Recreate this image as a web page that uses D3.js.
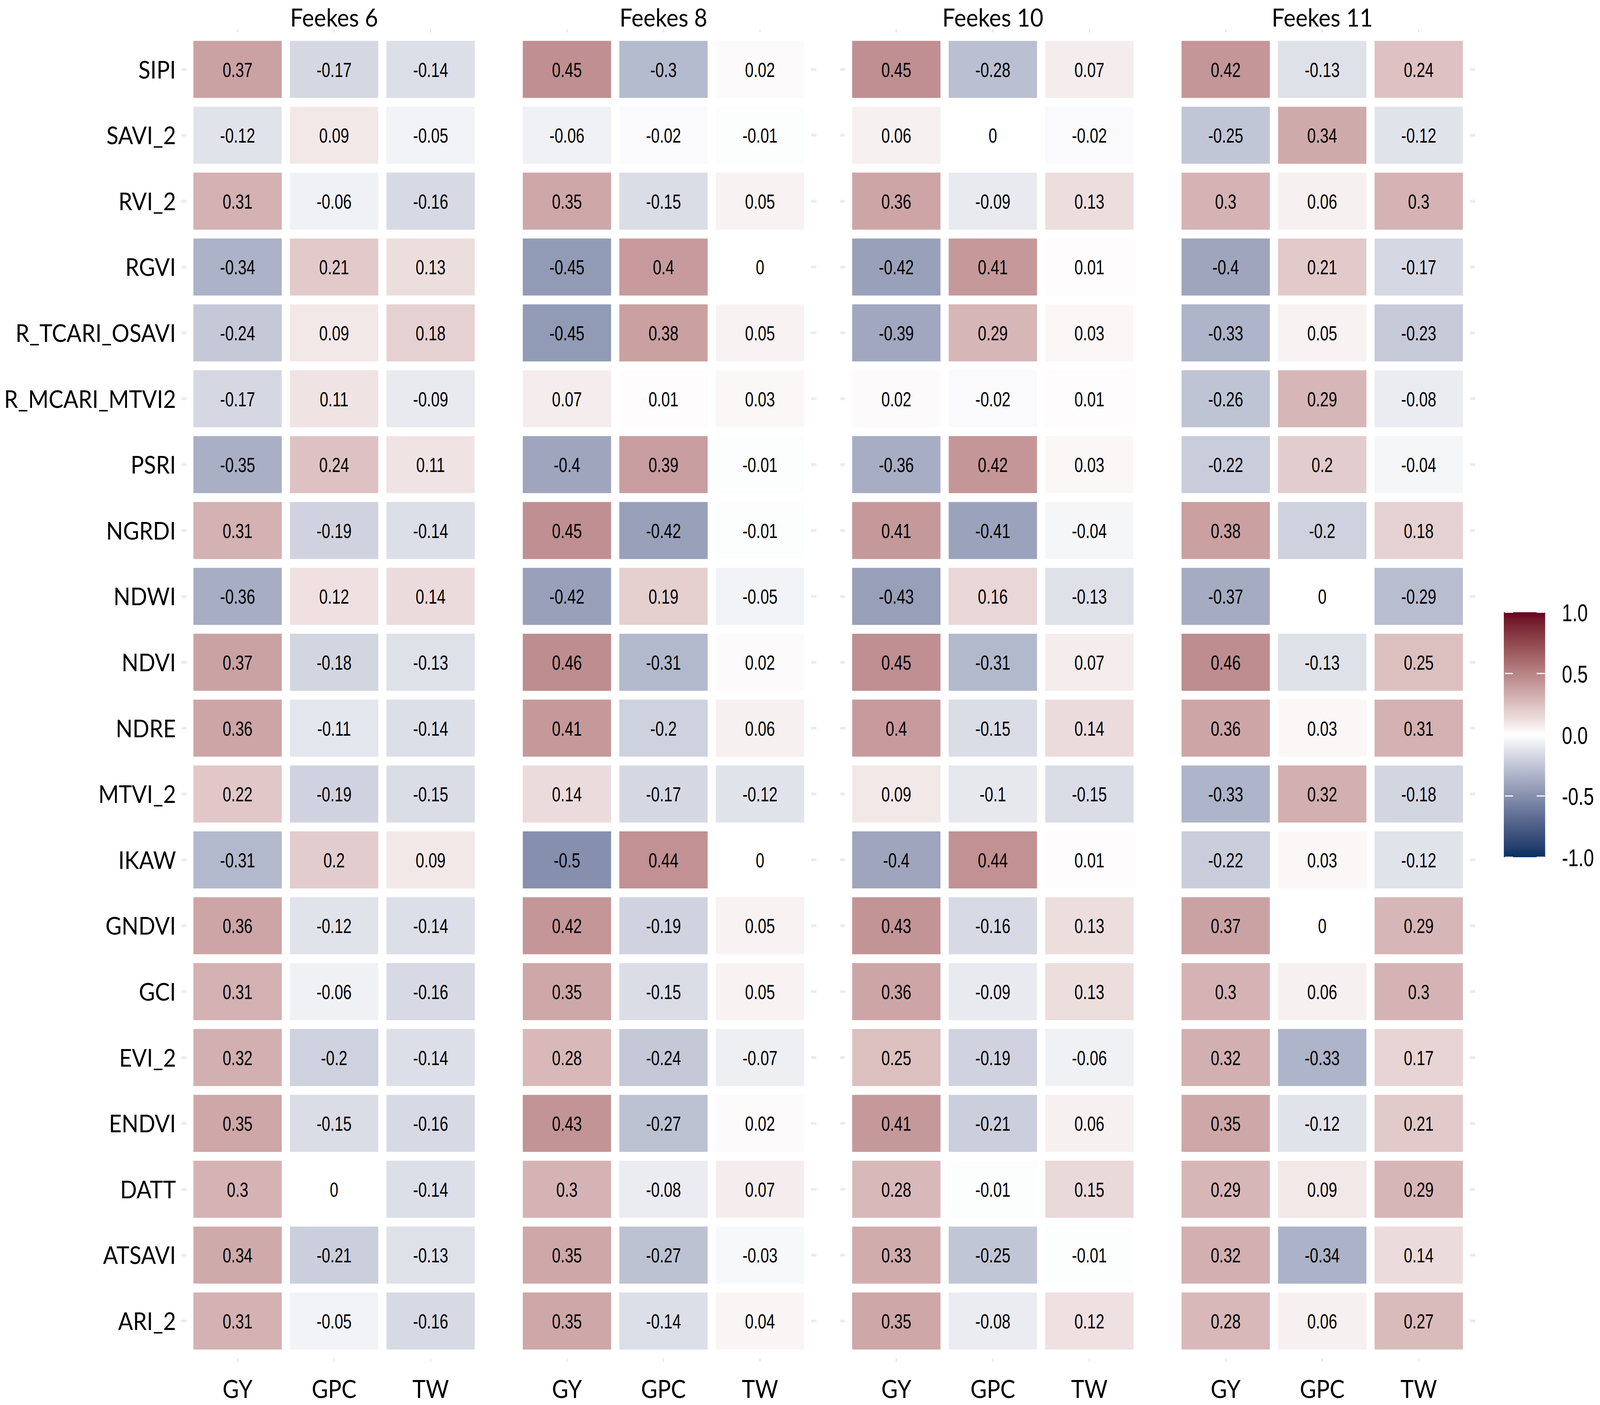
<!DOCTYPE html>
<html>
<head>
<meta charset="utf-8">
<script src="https://cdn.jsdelivr.net/npm/d3@7"></script>
<style>
  html, body { margin: 0; padding: 0; background: #fff; width: 100%; height: 100%; overflow: hidden; }
  svg { display: block; width: 100vw; height: 100vh; }
</style>
</head>
<body>
<svg id="chart" viewBox="0 0 4492 3596" preserveAspectRatio="none"></svg>
<script>
// ---------------- DATA ----------------
const indices = ["SIPI","SAVI_2","RVI_2","RGVI","R_TCARI_OSAVI","R_MCARI_MTVI2","PSRI","NGRDI","NDWI","NDVI","NDRE","MTVI_2","IKAW","GNDVI","GCI","EVI_2","ENDVI","DATT","ATSAVI","ARI_2"];
const traits = ["GY","GPC","TW"];
const stages = ["Feekes 6","Feekes 8","Feekes 10","Feekes 11"];
const legendTicks = [1.0, 0.5, 0.0, -0.5, -1.0];

const f6_GY  = [0.37,-0.12,0.31,-0.34,-0.24,-0.17,-0.35,0.31,-0.36,0.37,0.36,0.22,-0.31,0.36,0.31,0.32,0.35,0.3,0.34,0.31];
const f6_GPC = [-0.17,0.09,-0.06,0.21,0.09,0.11,0.24,-0.19,0.12,-0.18,-0.11,-0.19,0.2,-0.12,-0.06,-0.2,-0.15,0,-0.21,-0.05];
const f6_TW  = [-0.14,-0.05,-0.16,0.13,0.18,-0.09,0.11,-0.14,0.14,-0.13,-0.14,-0.15,0.09,-0.14,-0.16,-0.14,-0.16,-0.14,-0.13,-0.16];

const f8_GY  = [0.45,-0.06,0.35,-0.45,-0.45,0.07,-0.4,0.45,-0.42,0.46,0.41,0.14,-0.5,0.42,0.35,0.28,0.43,0.3,0.35,0.35];
const f8_GPC = [-0.3,-0.02,-0.15,0.4,0.38,0.01,0.39,-0.42,0.19,-0.31,-0.2,-0.17,0.44,-0.19,-0.15,-0.24,-0.27,-0.08,-0.27,-0.14];
const f8_TW  = [0.02,-0.01,0.05,0,0.05,0.03,-0.01,-0.01,-0.05,0.02,0.06,-0.12,0,0.05,0.05,-0.07,0.02,0.07,-0.03,0.04];

const f10_GY  = [0.45,0.06,0.36,-0.42,-0.39,0.02,-0.36,0.41,-0.43,0.45,0.4,0.09,-0.4,0.43,0.36,0.25,0.41,0.28,0.33,0.35];
const f10_GPC = [-0.28,0,-0.09,0.41,0.29,-0.02,0.42,-0.41,0.16,-0.31,-0.15,-0.1,0.44,-0.16,-0.09,-0.19,-0.21,-0.01,-0.25,-0.08];
const f10_TW  = [0.07,-0.02,0.13,0.01,0.03,0.01,0.03,-0.04,-0.13,0.07,0.14,-0.15,0.01,0.13,0.13,-0.06,0.06,0.15,-0.01,0.12];

const f11_GY  = [0.42,-0.25,0.3,-0.4,-0.33,-0.26,-0.22,0.38,-0.37,0.46,0.36,-0.33,-0.22,0.37,0.3,0.32,0.35,0.29,0.32,0.28];
const f11_GPC = [-0.13,0.34,0.06,0.21,0.05,0.29,0.2,-0.2,0,-0.13,0.03,0.32,0.03,0,0.06,-0.33,-0.12,0.09,-0.34,0.06];
const f11_TW  = [0.24,-0.12,0.3,-0.17,-0.23,-0.08,-0.04,0.18,-0.29,0.25,0.31,-0.18,-0.12,0.29,0.3,0.17,0.21,0.29,0.14,0.27];

const stageSeries = [
  [f6_GY, f6_GPC, f6_TW],
  [f8_GY, f8_GPC, f8_TW],
  [f10_GY, f10_GPC, f10_TW],
  [f11_GY, f11_GPC, f11_TW]
];

// Build long table
const cells = [];
stages.forEach((s, si) => {
  traits.forEach((t, ti) => {
    indices.forEach((idx, ri) => {
      cells.push({stage: s, trait: t, index: idx, value: stageSeries[si][ti][ri]});
    });
  });
});

// ---------------- LAYOUT ----------------
const svg = d3.select("#chart");
const labelFont = "Lato, 'Open Sans', sans-serif";
const numFont = "'Liberation Sans', Arial, sans-serif";
const narrow = 0.83;

const panelW = 813;
const panelStep = 924.7;
const panelX0 = 531.5;

const facetX = d3.scaleBand().domain(stages)
  .range([panelX0, panelX0 + panelStep * stages.length - (panelStep - panelW)])
  .paddingInner((panelStep - panelW) / panelStep).paddingOuter(0);

const xInner = d3.scaleBand().domain(traits).range([0, panelW]).paddingInner(0.085).paddingOuter(0.0425);

const y = d3.scaleBand().domain(indices).range([93.3, 93.3 + 168.6 * indices.length])
  .paddingInner(0.134).paddingOuter(0.067);

const color = d3.scaleLinear().domain([-1, 0, 1])
  .range(["#053061", "#ffffff", "#67001F"])
  .interpolate(d3.interpolateLab);

// ---------------- PANELS ----------------
const panels = svg.selectAll("g.panel").data(stages).join("g")
  .attr("class", "panel")
  .attr("transform", d => `translate(${facetX(d)},0)`);

panels.each(function(stage, si) {
  const g = d3.select(this);
  const data = cells.filter(c => c.stage === stage);

  // top ticks
  g.selectAll("line.ttick").data(traits).join("line")
    .attr("x1", d => xInner(d) + xInner.bandwidth() / 2)
    .attr("x2", d => xInner(d) + xInner.bandwidth() / 2)
    .attr("y1", 75).attr("y2", 83)
    .attr("stroke", "#e6e6e6").attr("stroke-width", 4);

  // bottom ticks
  g.selectAll("line.btick").data(traits).join("line")
    .attr("x1", d => xInner(d) + xInner.bandwidth() / 2)
    .attr("x2", d => xInner(d) + xInner.bandwidth() / 2)
    .attr("y1", 3477).attr("y2", 3485)
    .attr("stroke", "#e6e6e6").attr("stroke-width", 4);

  // side ticks (left on panels 1 & 3, right on panels 2 & 4)
  const left = (si % 2 === 0);
  g.selectAll("line.stick").data(indices).join("line")
    .attr("x1", left ? -22 : panelW + 8)
    .attr("x2", left ? -8 : panelW + 23)
    .attr("y1", d => y(d) + y.bandwidth() / 2)
    .attr("y2", d => y(d) + y.bandwidth() / 2)
    .attr("stroke", "#ebebeb").attr("stroke-width", 7);

  // tiles
  g.selectAll("rect.cell").data(data).join("rect")
    .attr("class", "cell")
    .attr("x", d => xInner(d.trait))
    .attr("y", d => y(d.index))
    .attr("width", xInner.bandwidth())
    .attr("height", y.bandwidth())
    .attr("fill", d => color(d.value));

  // values
  g.selectAll("g.val").data(data).join("g")
    .attr("class", "val")
    .attr("transform", d => `translate(${xInner(d.trait) + xInner.bandwidth() / 2},${y(d.index) + y.bandwidth() / 2 + 19}) scale(${narrow},1)`)
    .append("text")
    .attr("text-anchor", "middle")
    .attr("font-family", numFont)
    .attr("font-size", 52)
    .attr("fill", "#000")
    .text(d => String(d.value));

  // title
  g.append("text")
    .attr("x", panelW / 2)
    .attr("y", 68)
    .attr("text-anchor", "middle")
    .attr("font-family", labelFont)
    .attr("font-size", 64)
    .attr("fill", "#000")
    .text(stage);

  // x labels
  g.selectAll("text.xl").data(traits).join("text")
    .attr("class", "xl")
    .attr("x", d => xInner(d) + xInner.bandwidth() / 2)
    .attr("y", 3578)
    .attr("text-anchor", "middle")
    .attr("font-family", labelFont)
    .attr("font-size", 63)
    .attr("fill", "#000")
    .text(d => d);
});

// y labels
svg.append("g").selectAll("text").data(indices).join("text")
  .attr("x", 494)
  .attr("y", d => y(d) + y.bandwidth() / 2 + 23)
  .attr("text-anchor", "end")
  .attr("font-family", labelFont)
  .attr("font-size", 62)
  .attr("fill", "#000")
  .text(d => d);

// ---------------- LEGEND ----------------
const legX = 4222, legW = 116, legTop = 1567, legBot = 2194;
const ly = d3.scaleLinear().domain([1, -1]).range([legTop, legBot]);

const defs = svg.append("defs");
const grad = defs.append("linearGradient").attr("id", "legGrad")
  .attr("x1", 0).attr("y1", 0).attr("x2", 0).attr("y2", 1);
d3.range(0, 41).forEach(i => {
  const v = 1 - i / 20;
  grad.append("stop").attr("offset", (i / 40 * 100) + "%").attr("stop-color", color(v));
});

svg.append("rect")
  .attr("x", legX).attr("y", legTop)
  .attr("width", legW).attr("height", legBot - legTop)
  .attr("fill", "url(#legGrad)");

const lt = svg.append("g");
lt.selectAll("line.l").data(legendTicks).join("line")
  .attr("x1", legX + 3).attr("x2", legX + 26)
  .attr("y1", d => ly(d)).attr("y2", d => ly(d))
  .attr("stroke", "#fff").attr("stroke-width", 3);
lt.selectAll("line.r").data(legendTicks).join("line")
  .attr("x1", legX + legW - 24).attr("x2", legX + legW - 1)
  .attr("y1", d => ly(d)).attr("y2", d => ly(d))
  .attr("stroke", "#fff").attr("stroke-width", 3);

svg.append("g").selectAll("g").data(legendTicks).join("g")
  .attr("transform", d => `translate(4385,${ly(d) + 23}) scale(${narrow},1)`)
  .append("text")
  .attr("text-anchor", "start")
  .attr("font-family", numFont)
  .attr("font-size", 63)
  .attr("fill", "#000")
  .text(d => d.toFixed(1));
</script>
</body>
</html>
